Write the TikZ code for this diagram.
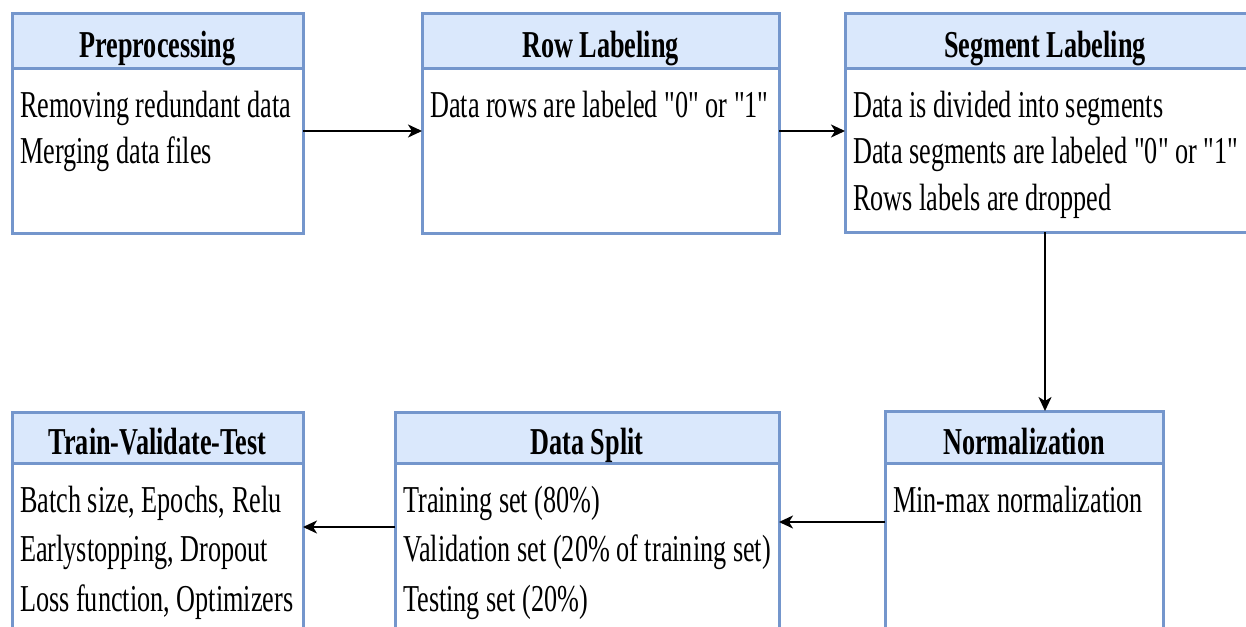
\documentclass[tikz,border=0pt]{standalone}
\usepackage{fontspec}
\newfontfamily\dgfont[FakeStretch=0.69]{Liberation Serif}
\usetikzlibrary{arrows.meta}
\definecolor{boxline}{RGB}{116,150,204}
\definecolor{headfill}{RGB}{218,232,252}
\begin{document}
\begin{tikzpicture}[x=1pt,y=-1pt,
  frame/.style={draw=boxline, line width=3pt, fill=white, anchor=north west,
    inner sep=0pt, outer sep=0pt},
  headbar/.style={draw=boxline, line width=3pt, fill=headfill, anchor=north west,
    inner sep=0pt, outer sep=0pt},
  title/.style={anchor=base, inner sep=0pt,
    font=\dgfont\fontsize{38}{46}\selectfont\bfseries},
  entry/.style={anchor=base west, inner sep=0pt,
    font=\dgfont\fontsize{38}{46}\selectfont},
  conn/.style={draw=black, line width=2pt,
    -{Stealth[length=14pt,width=13pt,inset=4pt]}}]
\useasboundingbox (0,0) rectangle (1246,626);
\clip (0,0) rectangle (1246,626);

% ---- top row ----
\node[frame, minimum width=291pt, minimum height=219pt] (pre) at (12,14) {};
\node[headbar, minimum width=291pt, minimum height=54pt] (preh) at (12,14) {};
\node[title] (pret) at (157.5,58) {Preprocessing};
\node[entry] (pre1) at (20,117) {Removing redundant data};
\node[entry] (pre2) at (20,163.5) {Merging data files};

\node[frame, minimum width=357pt, minimum height=219pt] (row) at (422,14) {};
\node[headbar, minimum width=357pt, minimum height=54pt] (rowh) at (422,14) {};
\node[title] (rowt) at (600.5,58) {Row Labeling};
\node[entry] (row1) at (430,117) {Data rows are labeled "0" or "1"};

\node[frame, minimum width=420pt, minimum height=218pt] (seg) at (845,14) {};
\node[headbar, minimum width=420pt, minimum height=54pt] (segh) at (845,14) {};
\node[title] (segt) at (1045,58) {Segment Labeling};
\node[entry] (seg1) at (853,117) {Data is divided into segments};
\node[entry] (seg2) at (853,163.5) {Data segments are labeled "0" or "1"};
\node[entry] (seg3) at (853,210) {Rows labels are dropped};

% ---- bottom row ----
\node[frame, minimum width=278pt, minimum height=300pt] (norm) at (885,411) {};
\node[headbar, minimum width=278pt, minimum height=52pt] (normh) at (885,411) {};
\node[title] (normt) at (1024,454) {Normalization};
\node[entry] (norm1) at (893,512) {Min-max normalization};

\node[frame, minimum width=384pt, minimum height=300pt] (split) at (395,412) {};
\node[headbar, minimum width=384pt, minimum height=51pt] (splith) at (395,412) {};
\node[title] (splitt) at (587,454) {Data Split};
\node[entry] (split1) at (403,512) {Training set (80\%)};
\node[entry] (split2) at (403,561.5) {Validation set (20\% of training set)};
\node[entry] (split3) at (403,611) {Testing set (20\%)};

\node[frame, minimum width=291pt, minimum height=300pt] (train) at (12,412) {};
\node[headbar, minimum width=291pt, minimum height=51pt] (trainh) at (12,412) {};
\node[title] (traint) at (157.5,454) {Train-Validate-Test};
\node[entry] (train1) at (20,512) {Batch size, Epochs, Relu};
\node[entry] (train2) at (20,561.5) {Earlystopping, Dropout};
\node[entry] (train3) at (20,611) {Loss function, Optimizers};

% ---- connectors ----
\draw[conn] (pre.east |- 0,131) -- (row.west |- 0,131);
\draw[conn] (row.east |- 0,131) -- (seg.west |- 0,131);
\draw[conn] (seg.south -| 1045,0) -- (norm.north -| 1045,0);
\draw[conn] (norm.west |- 0,522) -- (split.east |- 0,522);
\draw[conn] (split.west |- 0,527) -- (train.east |- 0,527);
\end{tikzpicture}
\end{document}
